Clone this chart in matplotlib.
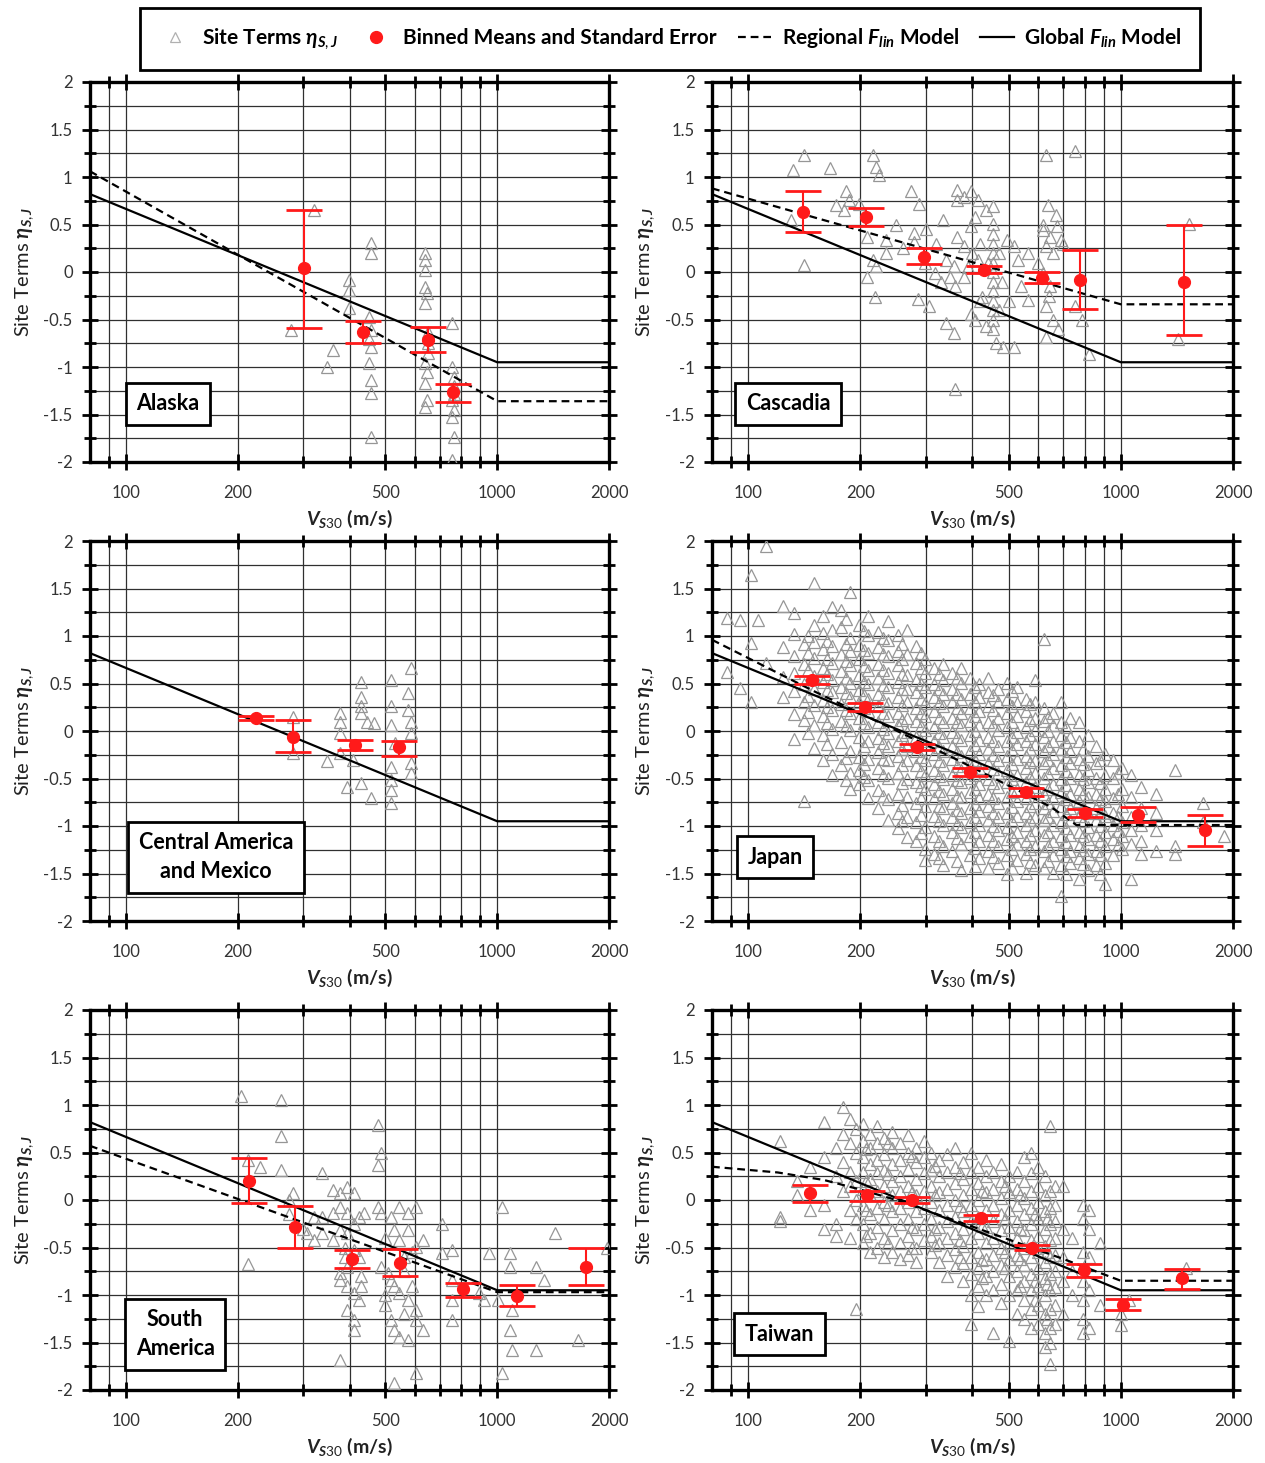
import matplotlib
matplotlib.use('Agg')
import matplotlib.pyplot as plt
from matplotlib.lines import Line2D
from matplotlib.ticker import FixedLocator, NullFormatter
import numpy as np

plt.rcParams['font.family'] = ['Lato', 'DejaVu Sans']
plt.rcParams['mathtext.fontset'] = 'custom'
plt.rcParams['mathtext.rm'] = 'Lato'
plt.rcParams['mathtext.it'] = 'Lato:italic:bold'
plt.rcParams['mathtext.bf'] = 'Lato:bold'

# global F_lin model (same line on every panel): knots (Vs30, eta)
global_v = [80, 1000, 2000]
global_eta = [0.82, -0.95, -0.95]

# ---------------- Alaska
alaska_sites = [
    (278, [-0.61]), (320, [0.65]), (348, [-1.0]), (360, [-0.82]),
    (398, [-0.08, -0.19, -0.38]), (452, [-0.47, -0.7, -0.96]),
    (456, [0.31, 0.2, -0.61, -0.79, -1.14, -1.27, -1.74]),
    (640, [0.2, 0.13, 0.02, -0.16, -0.33, -0.96, -1.17, -1.42]),
    (645, [-0.22, -1.05, -1.35]), (650, [-0.63, -0.75, -0.85]),
    (757, [-0.54, -1.0, -1.35, -1.53, -1.98]),
    (763, [-1.1, -1.2, -1.28, -1.45, -1.74]),
]
alaska_bin_v = [301, 436, 649, 762]
alaska_bin_eta = [0.04, -0.63, -0.72, -1.26]
alaska_bin_lo = [-0.59, -0.75, -0.84, -1.37]
alaska_bin_hi = [0.65, -0.52, -0.58, -1.18]
alaska_reg_v = [80, 1000, 2000]
alaska_reg_eta = [1.06, -1.36, -1.36]

# ---------------- Cascadia
cascadia_sites = [
    (130, [0.55]), (132, [1.07]), (141, [1.23, 0.07]), (166, [1.09]), (172, [0.71]),
    (181, [0.65]), (183, [0.85]), (187, [0.76]), (198, [0.72]), (209, [0.37, -0.05]),
    (216, [1.23, 0.13]), (219, [-0.26]), (221, [1.11, 0.06]), (224, [1.02]),
    (234, [0.34, 0.20]), (250, [0.5]), (260, [0.25]), (273, [0.85]), (279, [0.41, 0.32]),
    (285, [-0.28]), (288, [0.72]), (298, [0.09]), (300, [0.45]), (305, [-0.36]),
    (318, [-0.01]), (320, [0.3]), (330, [-0.1]), (333, [0.55]), (340, [0.13, -0.54]),
    (348, [-0.05]), (356, [0.06, -0.64]), (360, [-0.15, -1.23]), (363, [0.86, 0.76, 0.37]),
    (380, [0.79, 0.27, -0.05]), (390, [0.05]), (397, [0.85, 0.48, -0.44]), (400, [0.2]),
    (406, [0.58, -0.5]), (415, [0.76, 0.13]), (420, [0.3, -0.3]), (424, [-0.26]),
    (434, [0.65, -0.57]), (440, [0.1]),
    (453, [0.69, 0.51, 0.4, 0.3, 0.2, 0.1, 0.0, -0.1, -0.2, -0.3, -0.4, -0.5, -0.6]),
    (463, [-0.75]), (470, [0.2, -0.4]), (480, [-0.1]), (484, [-0.79]), (495, [0.34]),
    (500, [-0.3]), (517, [0.27, -0.79]), (529, [0.13]), (540, [-0.15]), (565, [0.2, -0.29]),
    (600, [0.1]), (617, [0.44, -0.01]), (620, [0.5]), (631, [1.23, 0.27, -0.36, -0.68]),
    (638, [0.71]), (640, [-0.25]), (645, [0.37, -0.15]), (659, [0.2, -0.5]), (670, [0.6]),
    (674, [0.48]), (680, [-0.6]), (689, [0.34]), (700, [0.3]), (752, [1.27, -0.36]),
    (787, [-0.5]), (822, [-0.86]), (1426, [-0.71]), (1524, [0.51]),
]
cascadia_bin_v = [140, 207, 296, 430, 614, 776, 1476]
cascadia_bin_eta = [0.63, 0.58, 0.16, 0.02, -0.06, -0.08, -0.1]
cascadia_bin_lo = [0.42, 0.48, 0.08, -0.01, -0.12, -0.39, -0.66]
cascadia_bin_hi = [0.85, 0.67, 0.25, 0.06, 0.0, 0.23, 0.49]
cascadia_reg_v = [80, 1000, 2000]
cascadia_reg_eta = [0.88, -0.34, -0.34]

# ---------------- Central America and Mexico (no regional model)
camex_sites = [
    (281, [0.15, -0.23]), (347, [-0.32]), (378, [0.19, 0.1, -0.02, -0.23]), (395, [-0.59]),
    (410, [-0.31]), (429, [0.52, 0.36, 0.26, 0.19, -0.55]), (447, [0.1]), (457, [-0.71]),
    (466, [0.08]), (519, [0.54, 0.26, 0.06, -0.38, -0.52, -0.62, -0.76]), (530, [-0.13]),
    (574, [0.4, 0.22]), (587, [0.66, 0.1, -0.02, -0.34, -0.44]),
]
camex_bin_v = [224, 281, 415, 545]
camex_bin_eta = [0.14, -0.06, -0.15, -0.17]
camex_bin_lo = [0.12, -0.22, -0.2, -0.26]
camex_bin_hi = [0.16, 0.12, -0.09, -0.1]

# ---------------- Japan
japan_sites = [
    (88, [1.19, 0.62]), (95, [1.17, 0.45]), (102, [1.64, 0.93, 0.31]), (106, [1.17]),
    (112, [1.95, 0.72]), (124, [1.32, 0.88, 0.57, 0.36]),
    (133, [1.24, 1.02, 0.79, 0.61, 0.42, 0.18, -0.08]),
    (141, [0.92, 0.71, 0.49, 0.31, 0.12, -0.74]),
    (150, [1.56, 1.12, 0.94, 0.77, 0.58, 0.44, 0.27, 0.06, -0.18]),
    (159, [1.21, 1.03, 0.86, 0.66, 0.52, 0.33, 0.16, -0.04, -0.31]),
    (168, [1.31, 1.06, 0.89, 0.72, 0.54, 0.41, 0.22, 0.02, -0.24, -0.46]),
    (178, [1.27, 1.09, 0.81, 0.63, 0.46, 0.28, 0.11, -0.12, -0.36]),
    (188, [1.46, 0.98, 0.84, 0.69, 0.51, 0.36, 0.19, 0.01, -0.21, -0.44, -0.61]),
    (198, [1.12, 0.91, 0.76, 0.59, 0.43, 0.31, 0.14, -0.06, -0.27, -0.41, -0.56]),
    (210, [1.21, 1.01, 0.82, 0.64, 0.49, 0.34, 0.21, 0.04, -0.11, -0.29, -0.52, -0.71]),
    (223, [1.04, 0.88, 0.71, 0.56, 0.39, 0.26, 0.09, -0.07, -0.22, -0.39, -0.62, -0.81]),
    (237, [1.16, 0.96, 0.79, 0.61, 0.46, 0.29, 0.16, -0.02, -0.16, -0.31, -0.49, -0.72, -0.94]),
    (252, [1.01, 0.84, 0.69, 0.52, 0.36, 0.19, 0.06, -0.11, -0.26, -0.44, -0.66, -0.86, -1.02]),
    (267, [1.06, 0.81, 0.59, 0.44, 0.31, 0.14, -0.01, -0.16, -0.31, -0.51, -0.69, -0.91, -1.12]),
    (283, [0.89, 0.72, 0.54, 0.41, 0.24, 0.11, -0.06, -0.21, -0.36, -0.54, -0.76, -0.96, -1.16]),
    (299, [0.76, 0.61, 0.46, 0.29, 0.16, 0.01, -0.14, -0.31, -0.46, -0.61, -0.79, -1.01, -1.24, -1.36]),
    (316, [0.66, 0.49, 0.36, 0.21, 0.04, -0.11, -0.24, -0.41, -0.56, -0.71, -0.89, -1.11, -1.29]),
    (334, [0.71, 0.54, 0.39, 0.26, 0.09, -0.06, -0.21, -0.36, -0.51, -0.66, -0.81, -0.99, -1.21, -1.41]),
    (353, [0.61, 0.44, 0.31, 0.14, -0.01, -0.16, -0.29, -0.46, -0.61, -0.76, -0.91, -1.06, -1.26]),
    (373, [0.66, 0.51, 0.34, 0.19, 0.06, -0.09, -0.26, -0.41, -0.54, -0.69, -0.86, -1.01, -1.19, -1.46]),
    (394, [0.56, 0.39, 0.24, 0.11, -0.04, -0.21, -0.36, -0.49, -0.64, -0.81, -0.96, -1.11, -1.31]),
    (417, [0.49, 0.36, 0.21, 0.06, -0.09, -0.24, -0.39, -0.56, -0.71, -0.84, -0.99, -1.16, -1.34]),
    (441, [0.56, 0.41, 0.26, 0.09, -0.06, -0.19, -0.34, -0.51, -0.66, -0.79, -0.94, -1.09, -1.26, -1.44]),
    (467, [0.44, 0.31, 0.14, 0.01, -0.16, -0.31, -0.44, -0.59, -0.76, -0.91, -1.04, -1.21, -1.39]),
    (495, [0.51, 0.34, 0.19, 0.04, -0.11, -0.26, -0.41, -0.54, -0.69, -0.86, -1.01, -1.14, -1.31, -1.51]),
    (525, [0.46, 0.29, 0.16, -0.01, -0.14, -0.29, -0.46, -0.61, -0.74, -0.89, -1.06, -1.19, -1.36]),
    (556, [0.34, 0.21, 0.04, -0.11, -0.26, -0.39, -0.54, -0.71, -0.86, -0.99, -1.16, -1.29, -1.49]),
    (588, [0.54, 0.31, 0.14, 0.01, -0.14, -0.31, -0.44, -0.59, -0.76, -0.91, -1.04, -1.21, -1.41]),
    (622, [0.97, 0.24, 0.11, -0.06, -0.21, -0.34, -0.49, -0.66, -0.81, -0.94, -1.09, -1.26, -1.44]),
    (656, [0.19, 0.06, -0.11, -0.24, -0.39, -0.56, -0.71, -0.84, -0.99, -1.16, -1.31, -1.49]),
    (692, [0.31, 0.09, -0.04, -0.19, -0.36, -0.51, -0.64, -0.79, -0.96, -1.11, -1.24, -1.41, -1.74]),
    (731, [0.14, -0.06, -0.21, -0.34, -0.49, -0.66, -0.81, -0.94, -1.09, -1.26, -1.39]),
    (772, [0.09, -0.11, -0.29, -0.46, -0.61, -0.74, -0.89, -1.06, -1.21, -1.34, -1.56]),
    (815, [-0.04, -0.26, -0.41, -0.54, -0.69, -0.86, -1.01, -1.14, -1.29, -1.46]),
    (858, [-0.16, -0.34, -0.49, -0.66, -0.81, -0.94, -1.09, -1.26, -1.41]),
    (905, [-0.24, -0.46, -0.61, -0.74, -0.89, -1.06, -1.21, -1.39, -1.61]),
    (955, [-0.31, -0.49, -0.71, -0.86, -0.99, -1.14, -1.31]),
    (1005, [-0.39, -0.61, -0.79, -0.96, -1.11, -1.24]),
    (1062, [-0.46, -0.69, -0.91, -1.04, -1.19, -1.56]),
    (1130, [-0.59, -0.81, -0.99, -1.16, -1.29]),
    (1240, [-0.66, -0.86, -1.04, -1.26]),
    (1396, [-0.41, -1.21, -1.29]), (1664, [-0.76, -0.96]), (1890, [-1.1]),
    # sites between the columns above
    (145, [1.0, 0.82, 0.64, 0.37, 0.2, -0.02]),
    (163, [0.95, 0.76, 0.6, 0.43, 0.25, 0.08, -0.14]),
    (183, [1.18, 0.92, 0.74, 0.56, 0.4, 0.22, 0.05, -0.28, -0.52]),
    (204, [1.05, 0.85, 0.68, 0.52, 0.38, 0.24, 0.08, -0.16, -0.35, -0.48]),
    (230, [0.98, 0.81, 0.64, 0.48, 0.33, 0.19, 0.02, -0.13, -0.29, -0.46, -0.68]),
    (259, [0.92, 0.76, 0.6, 0.44, 0.27, 0.12, -0.04, -0.19, -0.36, -0.55, -0.78, -0.95]),
    (291, [0.82, 0.66, 0.5, 0.34, 0.19, 0.05, -0.11, -0.27, -0.42, -0.58, -0.71, -0.88, -1.07]),
    (325, [0.6, 0.44, 0.29, 0.14, -0.02, -0.17, -0.32, -0.47, -0.63, -0.79, -0.95, -1.16, -1.34]),
    (363, [0.56, 0.39, 0.24, 0.09, -0.06, -0.22, -0.37, -0.52, -0.68, -0.83, -0.98, -1.13, -1.37]),
    (405, [0.46, 0.31, 0.16, 0.0, -0.15, -0.3, -0.46, -0.61, -0.77, -0.91, -1.06, -1.23, -1.42]),
    (454, [0.38, 0.22, 0.06, -0.1, -0.25, -0.4, -0.55, -0.7, -0.86, -1.0, -1.16, -1.33]),
    (510, [0.42, 0.26, 0.1, -0.06, -0.2, -0.35, -0.5, -0.64, -0.8, -0.95, -1.1, -1.24, -1.44]),
    (572, [0.28, 0.12, -0.04, -0.19, -0.33, -0.48, -0.64, -0.79, -0.94, -1.09, -1.24, -1.38]),
    (638, [0.15, 0.0, -0.16, -0.3, -0.45, -0.61, -0.76, -0.91, -1.06, -1.21, -1.37]),
    (711, [0.04, -0.12, -0.27, -0.42, -0.57, -0.72, -0.87, -1.02, -1.17, -1.32, -1.5]),
    (793, [-0.19, -0.35, -0.51, -0.66, -0.8, -0.95, -1.11, -1.25, -1.4]),
    (880, [-0.3, -0.55, -0.72, -0.86, -1.0, -1.16, -1.31, -1.5]),
    (980, [-0.44, -0.66, -0.9, -1.05, -1.2]),
]
japan_bin_v = [148, 206, 284, 394, 556, 800, 1111, 1679]
japan_bin_eta = [0.54, 0.25, -0.17, -0.43, -0.64, -0.86, -0.88, -1.04]
japan_bin_lo = [0.50, 0.21, -0.20, -0.47, -0.68, -0.90, -0.96, -1.21]
japan_bin_hi = [0.58, 0.29, -0.14, -0.39, -0.60, -0.82, -0.80, -0.88]
japan_reg_v = [80, 150, 350, 650, 760, 2000]
japan_reg_eta = [0.96, 0.42, -0.27, -0.80, -0.99, -0.99]

# ---------------- South America
samer_sites = [
    (204, [1.09]), (213, [0.42, -0.67]), (230, [0.35]), (262, [1.05, 0.67, 0.32]),
    (275, [0.0, -0.15]), (282, [0.07]), (300, [-0.3]), (307, [-0.35]), (320, [-0.18, -0.42]),
    (337, [0.28, -0.18, -0.35]), (362, [0.11, -0.14, -0.42]),
    (378, [0.07, -0.07, -0.32, -0.77, -0.84, -1.68]), (390, [-0.5, -0.6]),
    (395, [0.14, -0.14, -0.35, -0.7, -0.91, -1.16]),
    (411, [0.07, -0.25, -0.53, -0.98, -1.26, -1.37]), (424, [-0.18, -0.6, -1.05]),
    (430, [-0.8, -0.9]), (438, [-0.14]), (476, [0.79, 0.37, -0.07]), (486, [0.49, -0.14, -0.7]),
    (500, [-0.4, -1.0, -1.1]), (507, [-0.77]), (518, [-0.18, -0.84, -1.26]),
    (528, [-0.32, -0.91, -1.37, -1.93]), (545, [-0.07, -0.42, -0.98, -1.44]),
    (560, [-0.6, -0.75, -1.2]), (575, [-0.14, -0.32, -1.05, -1.47]), (590, [-0.55, -0.9]),
    (606, [-0.07, -0.49, -1.16, -1.26, -1.82]), (632, [-0.42, -1.37]), (708, [-0.25, -0.56]),
    (754, [-0.53, -0.84, -1.05, -1.26]), (891, [-0.98]), (920, [-1.05]), (949, [-0.56]),
    (1005, [-1.05]), (1031, [-0.07, -1.82]), (1084, [-0.56, -0.7, -1.37]),
    (1096, [-1.16, -1.58]), (1272, [-0.7, -1.58]), (1337, [-0.84]), (1428, [-0.35]),
    (1653, [-1.47]), (1977, [-0.5]),
]
samer_bin_v = [214, 285, 407, 548, 811, 1132, 1735]
samer_bin_eta = [0.2, -0.28, -0.62, -0.66, -0.94, -1.01, -0.7]
samer_bin_lo = [-0.03, -0.5, -0.72, -0.8, -1.02, -1.12, -0.89]
samer_bin_hi = [0.44, -0.06, -0.53, -0.52, -0.87, -0.89, -0.5]
samer_reg_v = [80, 1000, 2000]
samer_reg_eta = [0.57, -0.97, -0.97]

# ---------------- Taiwan
taiwan_sites = [
    (122, [0.62, -0.18, -0.22]), (135, [0.2, 0.05]), (147, [0.35, -0.1]),
    (160, [0.82, 0.45, -0.05, -0.3]), (172, [0.55, 0.25, -0.25, -0.38]),
    (180, [0.98, 0.7, 0.4, 0.1]), (188, [0.85, 0.6, 0.3, 0.15, -0.1, -0.4]),
    (195, [0.75, 0.5, 0.2, 0.0, -0.2, -1.15]),
    (203, [0.8, 0.62, 0.45, 0.3, 0.12, -0.05, -0.25, -0.45]),
    (212, [0.7, 0.55, 0.38, 0.22, 0.05, -0.15, -0.35, -0.55]),
    (222, [0.78, 0.6, 0.42, 0.28, 0.1, -0.08, -0.28, -0.5]),
    (232, [0.65, 0.48, 0.32, 0.15, -0.02, -0.2, -0.4, -0.6]),
    (243, [0.72, 0.55, 0.38, 0.2, 0.05, -0.12, -0.32, -0.55]),
    (255, [0.6, 0.42, 0.25, 0.1, -0.08, -0.25, -0.45, -0.62]),
    (268, [0.68, 0.5, 0.33, 0.15, -0.02, -0.2, -0.38, -0.58]),
    (282, [0.55, 0.4, 0.22, 0.05, -0.12, -0.3, -0.5, -0.65]),
    (296, [0.62, 0.45, 0.28, 0.1, -0.08, -0.25, -0.42]),
    (310, [0.5, 0.32, 0.15, -0.02, -0.2, -0.38, -0.55]),
    (326, [0.42, 0.25, 0.08, -0.1, -0.28, -0.45, -0.65]),
    (342, [0.48, 0.3, 0.12, -0.05, -0.22, -0.4, -0.58, -0.8]),
    (360, [0.55, 0.35, 0.18, 0.0, -0.18, -0.35, -0.52, -0.7]),
    (378, [0.4, 0.22, 0.05, -0.12, -0.3, -0.48, -0.66, -0.85]),
    (396, [0.5, 0.3, 0.12, -0.05, -0.22, -0.4, -0.6, -0.78, -1.0, -1.3]),
    (415, [0.35, 0.18, 0.0, -0.18, -0.35, -0.55, -0.72, -0.9, -1.12]),
    (435, [0.42, 0.25, 0.08, -0.1, -0.28, -0.45, -0.62, -0.8, -1.0]),
    (455, [0.3, 0.12, -0.05, -0.22, -0.4, -0.58, -0.75, -0.95, -1.4]),
    (478, [0.38, 0.2, 0.02, -0.15, -0.32, -0.5, -0.68, -0.88, -1.08]),
    (500, [0.25, 0.08, -0.1, -0.28, -0.45, -0.62, -0.8, -1.0, -1.48]),
    (525, [0.3, 0.12, -0.05, -0.22, -0.4, -0.58, -0.75, -0.95, -1.2]),
    (550, [0.45, 0.2, 0.02, -0.15, -0.32, -0.5, -0.68, -0.85, -1.05, -1.25]),
    (575, [0.5, 0.28, 0.1, -0.08, -0.25, -0.42, -0.6, -0.78, -0.95, -1.15, -1.35]),
    (600, [0.35, 0.15, -0.02, -0.2, -0.38, -0.55, -0.72, -0.9, -1.1, -1.3]),
    (625, [0.25, 0.05, -0.12, -0.3, -0.48, -0.65, -0.82, -1.0, -1.2, -1.4, -1.55]),
    (645, [0.78, 0.1, -0.08, -0.25, -0.42, -0.6, -0.78, -0.95, -1.15, -1.35, -1.5, -1.73]),
    (665, [0.15, -0.05, -0.22, -0.4, -0.58, -0.75, -0.92, -1.1, -1.3]),
    (700, [0.15, -0.3, -0.6, -0.85, -1.2]), (740, [-0.4, -0.75, -1.0]),
    (790, [-0.05, -0.2, -0.55, -0.85, -1.05, -1.25, -1.4]),
    (820, [-0.1, -0.3, -0.6, -0.95, -1.35]), (880, [-0.45, -1.1]),
    (1000, [-1.2, -1.32]), (1050, [-1.05]), (1500, [-0.72]),
    # sites between the columns above
    (207, [0.54, 0.2, -0.1, -0.38]), (238, [0.6, 0.27, -0.05, -0.45]),
    (275, [0.46, 0.08, -0.28, -0.5]), (318, [0.36, 0.05, -0.3, -0.47]),
    (370, [0.28, -0.06, -0.42, -0.6]), (425, [0.1, -0.27, -0.63, -0.82]),
    (490, [0.15, -0.2, -0.55, -0.72]), (538, [0.05, -0.3, -0.62, -0.9]),
    (588, [-0.15, -0.5, -0.85, -1.05]), (635, [-0.2, -0.55, -0.88, -1.25]),
]
taiwan_bin_v = [147, 209, 275, 422, 579, 798, 1012, 1459]
taiwan_bin_eta = [0.07, 0.05, 0.0, -0.19, -0.5, -0.74, -1.1, -0.82]
taiwan_bin_lo = [-0.02, -0.01, -0.03, -0.22, -0.53, -0.81, -1.16, -0.94]
taiwan_bin_hi = [0.16, 0.1, 0.03, -0.16, -0.47, -0.67, -1.04, -0.73]
taiwan_reg_v = [80, 120, 160, 200, 250, 400, 700, 1000, 2000]
taiwan_reg_eta = [0.35, 0.29, 0.21, 0.11, 0.0, -0.28, -0.62, -0.85, -0.85]

panels = [
    ('Alaska', alaska_sites, alaska_bin_v, alaska_bin_eta, alaska_bin_lo, alaska_bin_hi,
     alaska_reg_v, alaska_reg_eta, (0.150, 0.153)),
    ('Cascadia', cascadia_sites, cascadia_bin_v, cascadia_bin_eta, cascadia_bin_lo, cascadia_bin_hi,
     cascadia_reg_v, cascadia_reg_eta, (0.146, 0.153)),
    ('Central America\nand Mexico', camex_sites, camex_bin_v, camex_bin_eta, camex_bin_lo, camex_bin_hi,
     None, None, (0.243, 0.168)),
    ('Japan', japan_sites, japan_bin_v, japan_bin_eta, japan_bin_lo, japan_bin_hi,
     japan_reg_v, japan_reg_eta, (0.121, 0.168)),
    ('South\nAmerica', samer_sites, samer_bin_v, samer_bin_eta, samer_bin_lo, samer_bin_hi,
     samer_reg_v, samer_reg_eta, (0.164, 0.147)),
    ('Taiwan', taiwan_sites, taiwan_bin_v, taiwan_bin_eta, taiwan_bin_lo, taiwan_bin_hi,
     taiwan_reg_v, taiwan_reg_eta, (0.129, 0.147)),
]

W, H = 1265, 1463
fig = plt.figure(figsize=(W / 100, H / 100), dpi=100)

col_left = [90, 712]
col_width = [519, 521]
row_top = [82, 541, 1010]
ax_h = 380

tri_color = '#969696'
red = '#ff1a1a'

for i, (name, sites, bv, be, blo, bhi, rv, re, boxpos) in enumerate(panels):
    r, c = i // 2, i % 2
    ax = fig.add_axes([col_left[c] / W, 1 - (row_top[r] + ax_h) / H, col_width[c] / W, ax_h / H])
    ax.set_xscale('log')

    sv = []
    se = []
    for v, etas in sites:
        for e in etas:
            sv.append(v)
            se.append(e)
    ax.plot(sv, se, ls='none', marker='^', ms=8, mfc='none', mec=tri_color, mew=0.9, zorder=3)

    ax.plot(global_v, global_eta, color='black', lw=1.6, zorder=4, solid_joinstyle='round')
    if rv is not None:
        ax.plot(rv, re, color='black', lw=1.6, dashes=(3.5, 2.2), zorder=4)

    bv = np.array(bv)
    be = np.array(be)
    yerr = [be - np.array(blo), np.array(bhi) - be]
    ax.errorbar(bv, be, yerr=yerr, fmt='o', color=red, ms=8.5, ecolor=red, elinewidth=1.5,
                capsize=13, capthick=2, zorder=5)

    ax.set_xlim(80, 2000)
    ax.set_ylim(-2, 2)
    ax.xaxis.set_major_locator(FixedLocator([100, 200, 500, 1000, 2000]))
    ax.xaxis.set_minor_locator(FixedLocator([90, 300, 400, 600, 700, 800, 900]))
    ax.set_xticklabels(['100', '200', '500', '1000', '2000'])
    ax.xaxis.set_minor_formatter(NullFormatter())
    ax.yaxis.set_major_locator(FixedLocator([-2, -1.5, -1, -0.5, 0, 0.5, 1, 1.5, 2]))
    ax.yaxis.set_minor_locator(FixedLocator([-1.75, -1.25, -0.75, -0.25, 0.25, 0.75, 1.25, 1.75]))
    ax.set_yticklabels(['-2', '-1.5', '-1', '-0.5', '0', '0.5', '1', '1.5', '2'])

    ax.grid(True, which='both', color='#303030', lw=0.9)
    ax.set_axisbelow(True)
    ax.tick_params(which='both', top=True, right=True, direction='inout', width=2,
                   labelsize=12, labelcolor='#333333')
    ax.tick_params(which='major', length=11)
    ax.tick_params(which='minor', length=8)
    ax.tick_params(axis='x', pad=11)
    ax.tick_params(axis='y', pad=7)
    for sp in ax.spines.values():
        sp.set_linewidth(2.4)

    ax.set_xlabel(r'$V_{S30}$ (m/s)', fontsize=14, fontweight='bold', color='#222222')
    ax.xaxis.set_label_coords(0.5, -0.12)
    ax.set_ylabel(r'Site Terms $\eta_{S,J}$', fontsize=14.5, color='#222222')
    ax.yaxis.set_label_coords(-0.105, 0.5)

    ax.text(boxpos[0], boxpos[1], name, transform=ax.transAxes, ha='center', va='center',
            fontsize=15.5, fontweight='bold', linespacing=1.45, zorder=6,
            bbox=dict(boxstyle='square,pad=0.5', fc='white', ec='black', lw=2))

handles = [
    Line2D([], [], ls='none', marker='^', ms=7, mfc='none', mec='#b0b0b0', mew=0.9),
    Line2D([], [], ls='none', marker='o', ms=8.5, color=red),
    Line2D([], [], color='black', lw=1.6, dashes=(3.5, 2.2)),
    Line2D([], [], color='black', lw=1.6),
]
labels = [r'Site Terms $\eta_{S,J}$', 'Binned Means and Standard Error',
          r'Regional $F_{lin}$ Model', r'Global $F_{lin}$ Model']
leg = fig.legend(handles, labels, loc='center', bbox_to_anchor=(670 / W, 1 - 39 / H), ncol=4,
                 frameon=True, fancybox=False, edgecolor='black', framealpha=1,
                 prop={'weight': 'bold', 'size': 15}, handlelength=1.6, handletextpad=0.5,
                 columnspacing=1.0, borderpad=0.9)
leg.get_frame().set_linewidth(2)

fig.savefig('out.png', dpi=100)
